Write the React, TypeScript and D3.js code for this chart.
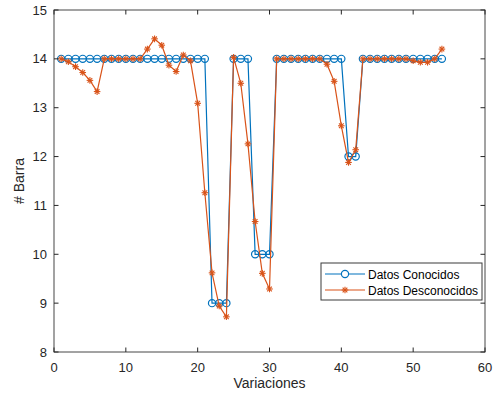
import React from "react";
import * as d3 from "d3";

const xValues: number[] = d3.range(1, 55);
const conocidos: number[] = [
  14, 14, 14, 14, 14, 14, 14, 14, 14, 14,
  14, 14, 14, 14, 14, 14, 14, 14, 14, 14,
  14, 9, 9, 9, 14, 14, 14, 10, 10, 10,
  14, 14, 14, 14, 14, 14, 14, 14, 14, 14,
  12, 12, 14, 14, 14, 14, 14, 14, 14, 14,
  14, 14, 14, 14,
];
const desconocidos: number[] = [
  14.0, 13.94, 13.84, 13.72, 13.56, 13.33, 14.0, 14.0, 14.0, 14.0,
  14.0, 14.0, 14.2, 14.41, 14.28, 13.87, 13.74, 14.08, 13.96, 13.09,
  11.26, 9.62, 8.94, 8.72, 14.03, 13.5, 12.26, 10.67, 9.61, 9.29,
  14.0, 14.0, 14.0, 14.0, 14.0, 14.0, 14.0, 13.89, 13.54, 12.63,
  11.88, 12.14, 14.0, 14.0, 14.0, 14.0, 14.0, 14.0, 14.0, 13.96,
  13.93, 13.93, 14.0, 14.2,
];
const xTicks: number[] = [0, 10, 20, 30, 40, 50, 60];
const yTicks: number[] = [8, 9, 10, 11, 12, 13, 14, 15];
const seriesNames: string[] = ["Datos Conocidos", "Datos Desconocidos"];

const BLUE = "#0072BD";
const ORANGE = "#D95319";
const AX = "#262626";
const FONT = "Arial, 'Liberation Sans', sans-serif";

const Star = ({ x, y, r, color }: { x: number; y: number; r: number; color: string }) => {
  const d = r * 0.707;
  return (
    <g stroke={color} strokeWidth={1.1}>
      <line x1={x - r} y1={y} x2={x + r} y2={y} />
      <line x1={x} y1={y - r} x2={x} y2={y + r} />
      <line x1={x - d} y1={y - d} x2={x + d} y2={y + d} />
      <line x1={x - d} y1={y + d} x2={x + d} y2={y - d} />
    </g>
  );
};

export default function App() {
  const W = 495, H = 394;
  const left = 54, right = 485, top = 10, bottom = 352;
  const x = d3.scaleLinear().domain([0, 60]).range([left, right]);
  const y = d3.scaleLinear().domain([8, 15]).range([bottom, top]);
  const line = d3.line<number>().x((_, i) => x(xValues[i])).y((v) => y(v));
  const tl = 4.5;

  const lx = 321, ly = 263, lw = 161, lh = 37;

  return (
    <svg width={W} height={H} style={{ position: "absolute", left: 0, top: 0, background: "#fff" }} fontFamily={FONT}>
      <rect x={0} y={0} width={W} height={H} fill="#fff" />
      {/* data */}
      <path d={line(conocidos) || ""} fill="none" stroke={BLUE} strokeWidth={1.2} />
      {conocidos.map((v, i) => (
        <circle key={"c" + i} cx={x(xValues[i])} cy={y(v)} r={3.6} fill="none" stroke={BLUE} strokeWidth={1.2} />
      ))}
      <path d={line(desconocidos) || ""} fill="none" stroke={ORANGE} strokeWidth={1.2} />
      {desconocidos.map((v, i) => (
        <Star key={"s" + i} x={x(xValues[i])} y={y(v)} r={3.3} color={ORANGE} />
      ))}
      {/* axes box */}
      <rect x={left} y={top} width={right - left} height={bottom - top} fill="none" stroke={AX} strokeWidth={1} opacity={0.85} />
      {xTicks.map((t) => (
        <g key={"xt" + t}>
          <line x1={x(t)} x2={x(t)} y1={bottom} y2={bottom - tl} stroke={AX} />
          <line x1={x(t)} x2={x(t)} y1={top} y2={top + tl} stroke={AX} />
          <text x={x(t)} y={372} textAnchor="middle" fontSize={13} fill={AX}>{t}</text>
        </g>
      ))}
      {yTicks.map((t) => (
        <g key={"yt" + t}>
          <line x1={left} x2={left + tl} y1={y(t)} y2={y(t)} stroke={AX} />
          <line x1={right} x2={right - tl} y1={y(t)} y2={y(t)} stroke={AX} />
          <text x={47} y={y(t) + 4.5} textAnchor="end" fontSize={13} fill={AX}>{t}</text>
        </g>
      ))}
      <text x={(left + right) / 2} y={388} textAnchor="middle" fontSize={14} fill={AX}>Variaciones</text>
      <text transform={`translate(24, ${(top + bottom) / 2}) rotate(-90)`} textAnchor="middle" fontSize={14} fill={AX}># Barra</text>
      {/* legend */}
      <rect x={lx} y={ly} width={lw} height={lh} fill="#fff" stroke={AX} strokeWidth={1} opacity={0.9} />
      <line x1={lx + 4} x2={lx + 44} y1={ly + 11} y2={ly + 11} stroke={BLUE} strokeWidth={1.2} />
      <circle cx={lx + 24} cy={ly + 11} r={3.6} fill="#fff" stroke={BLUE} strokeWidth={1.2} />
      <text x={lx + 47} y={ly + 15.5} fontSize={12} fill="#000">{seriesNames[0]}</text>
      <line x1={lx + 4} x2={lx + 44} y1={ly + 27} y2={ly + 27} stroke={ORANGE} strokeWidth={1.2} />
      <Star x={lx + 24} y={ly + 27} r={3.3} color={ORANGE} />
      <text x={lx + 47} y={ly + 31.5} fontSize={12} fill="#000">{seriesNames[1]}</text>
    </svg>
  );
}
